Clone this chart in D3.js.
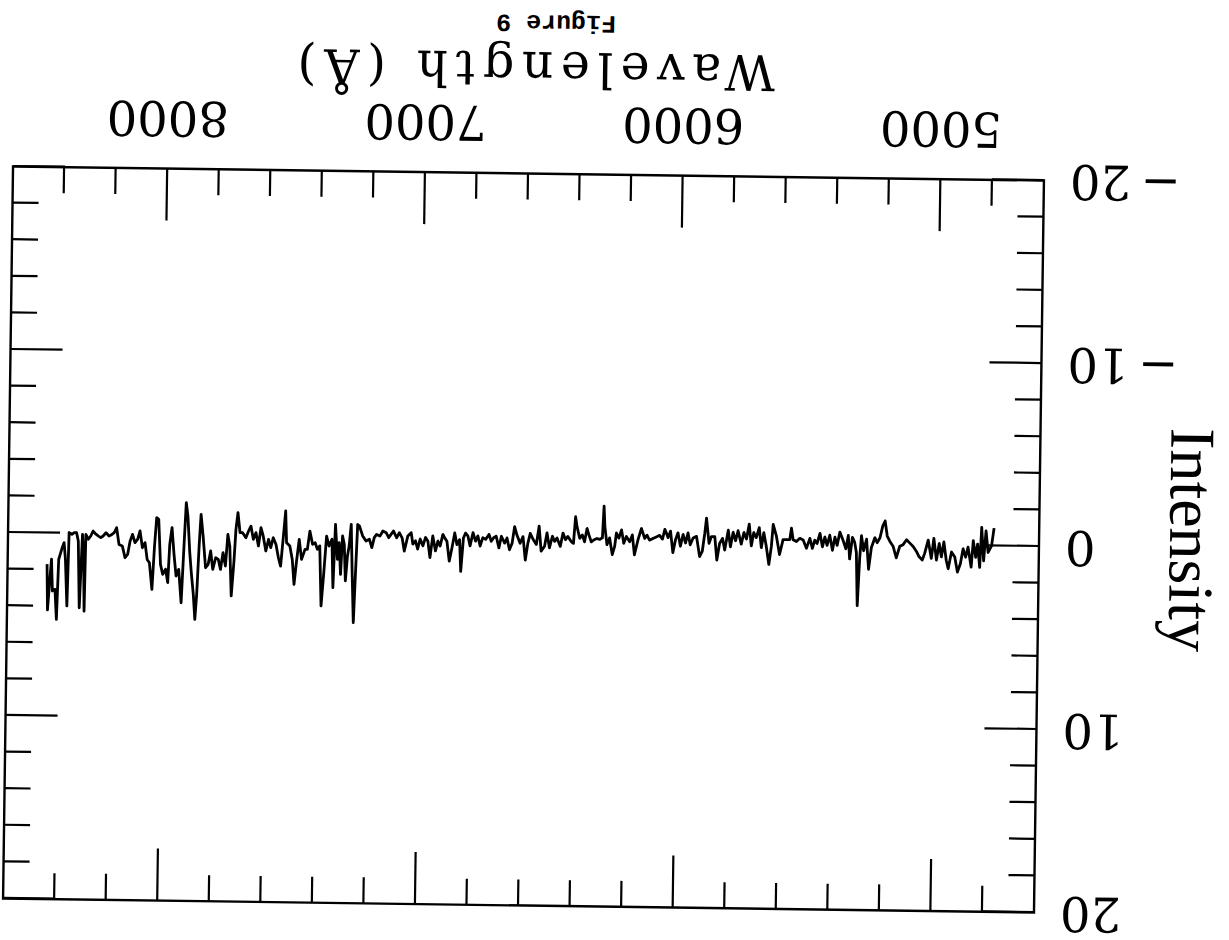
<!DOCTYPE html>
<html>
<head>
<meta charset="utf-8">
<script src="https://cdn.jsdelivr.net/npm/d3@7"></script>
<style>
  html, body { margin: 0; padding: 0; background: #fff; }
  svg { display: block; }
</style>
</head>
<body>
<svg id="chart" width="1229" height="940"></svg>
<script>
// Spectrum samples: wavelength (Å) and intensity
const wavelength = [
  4775,4784,4797,4806,4814,4823,4829,4838,4845,4855,4862,4875,4884,4894,4904,4915,4926,4939,4951,4959,
  4969,4978,4987,4997,5008,5017,5030,5043,5052,5065,5075,5088,5101,5114,5127,5140,5153,5166,5179,5189,
  5198,5207,5217,5228,5237,5250,5260,5269,5280,5289,5295,5302,5308,5315,5324,5334,5340,5349,5360,5373,
  5383,5392,5401,5412,5422,5431,5440,5450,5461,5470,5479,5489,5502,5515,5528,
  5541,5554,5561,5567,5580,5593,5606,5619,5632,5638,5647,5658,5668,5677,5686,5697,5707,5716,5725,5735,
  5745,5755,5768,5777,5787,5797,5806,5819,5828,5839,5849,5858,5871,5880,5891,5897,5906,5916,5929,5942,
  5953,5962,5971,5981,5991,6001,6010,6020,6030,6039,6052,6061,6072,6085,6098,6111,6121,6130,6143,6156,
  6169,6178,6188,6201,6211,6220,6230,6240,6246,6255,6266,6276,6285,6289,6294,6305,6315,6328,6337,6346,
  6354,6363,6372,6382,6393,6399,6406,6415,6428,6437,6447,6457,6470,6479,6488,6499,6509,6518,6531,6540,
  6550,6563,6574,6583,6592,6602,6613,6626,6635,6644,6654,6664,6673,6686,6695,6706,6716,6725,6734,6747,
  6758,6768,6777,6786,6796,6807,6816,6825,6833,6842,6848,6858,6867,6877,6887,6897,6906,6913,6923,6932,
  6941,6952,6962,6971,6980,6990,7001,7010,7019,7029,
  7036,7049,7062,7071,7082,7092,7105,7114,7123,7133,7146,7157,7170,7179,7188,7198,7211,7224,7237,7244,
  7250,7256,7263,7269,7276,7282,7289,7295,7302,7308,7315,7321,7330,7337,7343,7354,7364,7373,7382,7390,
  7399,7408,7418,7429,7438,7447,7460,7470,7480,7488,7496,7506,7519,7524,7532,7541,7550,7560,7571,7580,
  7589,7599,7610,7619,7628,7638,7648,7658,7667,7677,7690,7700,7709,7716,7722,7731,7739,7747,7755,7765,
  7774,7783,7793,7804,7813,7822,7832,7843,7852,7858,7865,7871,7878,7887,7894,7903,7910,7916,7925,7936,
  7946,7955,7964,7972,7978,7987,7998,8007,8016,8024,8031,8039,8050,8059,8068,8078,8088,8097,8107,8117,
  8126,8135,8145,8156,8169,8179,8188,8197,8208,8220,8231,8240,8249,8259,8270,8279,8288,8298,8301,8305,
  8311,8320,8327,8334,8343,8352,8363,8368,8376,8382,8391,8402,8408,8415,8425,8430,8438,8443,8447
];
const intensity = [
  -0.97,0,0.36,-0.82,0.82,-1.0,1.18,-0.09,0.64,-0.27,1.18,0.09,0.64,0.18,1.0,1.46,0.64,0.36,1.28,0.82,
  -0.18,0.64,-0.09,0.82,-0.36,0.73,-0.27,0.46,0.82,0.64,0.36,0.09,-0.09,-0.27,0,0.09,0.73,0.09,-0.18,-0.46,
  -1.28,-1.0,-0.36,-0.09,-0.36,0.18,1.37,-0.27,0.36,-0.46,0.82,3.37,0.46,-0.09,-0.36,0.82,-0.46,0.27,-0.18,-0.64,
  0.09,-0.36,0.36,-0.46,0.09,-0.36,0.18,-0.55,0,-0.18,0.27,-0.27,0.27,-0.18,-0.27,
  -0.09,-0.19,-0.82,-0.19,-0.19,-0.19,0.63,-0.37,-1.01,0.18,1.18,0.18,-0.55,0.27,-0.82,-0.28,-0.55,0.18,-1.01,-0.19,
  -0.55,0.09,-0.64,-0.09,-0.55,0.25,-0.66,0.43,-0.21,0.07,0.98,-0.3,-0.3,0.07,-1.3,-0.48,0.52,0.8,-0.3,-0.21,
  0.16,-0.48,0.07,-0.39,0.25,-0.48,-0.12,0.61,-0.57,-0.21,-0.66,-0.12,-0.33,-0.24,-0.15,-0.06,-0.33,-0.15,-0.69,-0.06,
  0.76,-0.33,0.04,-0.24,0.13,-0.6,-0.15,-0.42,0.31,0.76,-0.15,0.22,-0.78,-1.88,-0.15,-0.06,-0.11,-0.02,0.08,-0.29,
  -0.65,0.08,-0.29,-0.11,-0.74,-1.29,0.17,0.08,-0.2,-0.02,-0.38,0.35,-0.11,0.08,-0.2,0.44,-0.38,0.35,0.62,-0.74,
  0.26,-0.02,-0.34,0.21,1.12,-0.16,0.21,-0.25,-0.7,0.21,0.57,-0.07,0.21,-0.16,0.48,-0.16,-0.07,0.12,-0.25,0.02,
  -0.07,0.39,-0.16,0.12,-0.34,0.39,-0.16,-0.31,-0.04,1.79,0.05,0.33,-0.31,0.51,1.24,0.15,-0.04,-0.22,0.42,0.15,
  0.69,-0.13,1.06,0.15,-0.04,0.42,0.05,0.6,0.15,0.33,
  -0.29,-0.1,0.72,0,-0.28,0,-0.37,-0.18,0,-0.27,-0.36,-0.08,-0.17,0.01,0.56,0.1,0.2,-0.07,-0.61,-0.7,
  1.94,4.67,1.94,-0.7,0.49,1.03,2.39,0.4,-0.06,2.04,0.31,1.22,-0.69,2.77,0.13,0.5,-0.04,1.96,3.78,0.5,
  0.69,0.33,0.42,-0.3,0.7,0.7,1.25,0.16,1.44,2.62,1.26,0.53,0.35,-1.38,0.08,1.63,1.17,0.45,0.09,0.63,
  0.18,0.82,0,-0.45,0.55,-0.17,0.19,-0.53,-0.26,0.11,-0.16,-0.16,-1.25,-0.34,1.39,3.3,0.58,-0.06,1.67,0.94,
  1.86,1.31,1.22,1.86,0.86,1.59,1.78,0.05,-1.13,0.6,3.24,4.61,3.26,2.06,0.97,-1.03,-1.76,0.34,3.71,1.89,
  2.25,1.07,-0.39,0.53,2.62,1.89,2.17,1.63,-0.83,-0.92,0.63,3.0,1.55,1.37,0.45,0.73,-0.18,0.28,0.46,0.01,
  0.38,1.11,1.29,0.65,0.57,-0.34,-0.07,0.03,0.12,-0.06,0.12,0.21,0.13,0.03,-0.14,0.13,0.31,0.05,4.24,1.59,
  0.05,4.06,0.41,-0.04,-0.04,0.05,-0.04,3.97,1.42,0.51,0.88,1.43,4.71,3.07,3.16,1.43,3.08,4.2,1.7
];

// Axis ticks and labels
const xMajorTicks = [5000, 6000, 7000, 8000];
const xMinorTicks = [4800, 5200, 5400, 5600, 5800, 6200, 6400, 6600, 6800, 7200, 7400, 7600, 7800, 8200, 8400];
const yMajorTicks = [-20, -10, 0, 10, 20];
const yMinorTicks = [-18, -16, -14, -12, -8, -6, -4, -2, 2, 4, 6, 8, 12, 14, 16, 18];
const xDomain = [4600, 8600];
const yDomain = [-20, 20];
const xTitle = "Wavelength (Å)";
const yTitle = "Intensity";
const caption = "Figure 9";

// Plot frame and page placement (the sheet is mounted upside down)
const frame = { left: 8, right: 1039, top: 173.5, bottom: 905.5 };
const pivot = [523.5, 539.5];
const sheetAngle = 180.78;
const majorLen = 52, minorLen = 26;

const svg = d3.select("#chart");
svg.append("rect").attr("width", 1229).attr("height", 940).attr("fill", "#fff");

const sheet = svg.append("g")
  .attr("transform", `rotate(${sheetAngle} ${pivot[0]} ${pivot[1]})`);

const x = d3.scaleLinear().domain(xDomain).range([frame.left, frame.right]);
const y = d3.scaleLinear().domain(yDomain).range([frame.bottom, frame.top]);

const labelFont = "'DejaVu Serif', serif";
const fmt = d => d < 0 ? "\u2212\u2009" + Math.abs(d) : String(d);

function styleAxis(g) {
  g.select(".domain").remove();
  g.selectAll(".tick line").attr("stroke", "#000").attr("stroke-width", 2.2);
  g.selectAll("text").attr("fill", "#000")
    .attr("font-family", labelFont).attr("font-size", 48);
  g.attr("font-family", null).attr("font-size", null);
}

// Bottom axis (labelled) and its minor ticks
sheet.append("g").attr("transform", `translate(0,${frame.bottom})`)
  .call(d3.axisBottom(x).tickValues(xMajorTicks).tickSize(-majorLen).tickSizeOuter(0)
    .tickPadding(33).tickFormat(d3.format("d")))
  .call(styleAxis);
sheet.append("g").attr("transform", `translate(0,${frame.bottom})`)
  .call(d3.axisBottom(x).tickValues(xMinorTicks).tickSize(-minorLen).tickSizeOuter(0).tickFormat(""))
  .call(styleAxis);

// Top axis mirrors the ticks
sheet.append("g").attr("transform", `translate(0,${frame.top})`)
  .call(d3.axisTop(x).tickValues(xMajorTicks).tickSize(-majorLen).tickSizeOuter(0).tickFormat(""))
  .call(styleAxis);
sheet.append("g").attr("transform", `translate(0,${frame.top})`)
  .call(d3.axisTop(x).tickValues(xMinorTicks).tickSize(-minorLen).tickSizeOuter(0).tickFormat(""))
  .call(styleAxis);

// Left axis (labelled)
sheet.append("g").attr("transform", `translate(${frame.left},0)`)
  .call(d3.axisLeft(y).tickValues(yMajorTicks).tickSize(-majorLen).tickSizeOuter(0)
    .tickPadding(26).tickFormat(fmt))
  .call(styleAxis);
sheet.append("g").attr("transform", `translate(${frame.left},0)`)
  .call(d3.axisLeft(y).tickValues(yMinorTicks).tickSize(-minorLen).tickSizeOuter(0).tickFormat(""))
  .call(styleAxis);

// Right axis mirrors the ticks
sheet.append("g").attr("transform", `translate(${frame.right},0)`)
  .call(d3.axisRight(y).tickValues(yMajorTicks).tickSize(-majorLen).tickSizeOuter(0).tickFormat(""))
  .call(styleAxis);
sheet.append("g").attr("transform", `translate(${frame.right},0)`)
  .call(d3.axisRight(y).tickValues(yMinorTicks).tickSize(-minorLen).tickSizeOuter(0).tickFormat(""))
  .call(styleAxis);

// Frame
sheet.append("rect")
  .attr("x", frame.left).attr("y", frame.top)
  .attr("width", frame.right - frame.left).attr("height", frame.bottom - frame.top)
  .attr("fill", "none").attr("stroke", "#000").attr("stroke-width", 2.4);

// Spectrum
const points = wavelength.map((w, i) => [w, intensity[i]]);
sheet.append("path")
  .datum(points)
  .attr("fill", "none")
  .attr("stroke", "#000")
  .attr("stroke-width", 2.8)
  .attr("stroke-linejoin", "round")
  .attr("d", d3.line().x(d => x(d[0])).y(d => y(d[1])));

// Axis titles and caption
sheet.append("text")
  .attr("x", 521).attr("y", 1027)
  .attr("text-anchor", "middle")
  .attr("font-family", labelFont).attr("font-size", 49)
  .attr("letter-spacing", 7.5)
  .attr("fill", "#000")
  .text(xTitle);

sheet.append("text")
  .attr("transform", "translate(-123,548) rotate(-90)")
  .attr("text-anchor", "middle")
  .attr("font-family", "'Liberation Serif', serif").attr("font-size", 64)
  .attr("fill", "#000")
  .text(yTitle);

sheet.append("text")
  .attr("x", 498).attr("y", 1064)
  .attr("text-anchor", "middle")
  .attr("font-family", "'Liberation Mono', monospace").attr("font-weight", "bold").attr("font-size", 25)
  .attr("fill", "#000")
  .text(caption);
</script>
</body>
</html>
